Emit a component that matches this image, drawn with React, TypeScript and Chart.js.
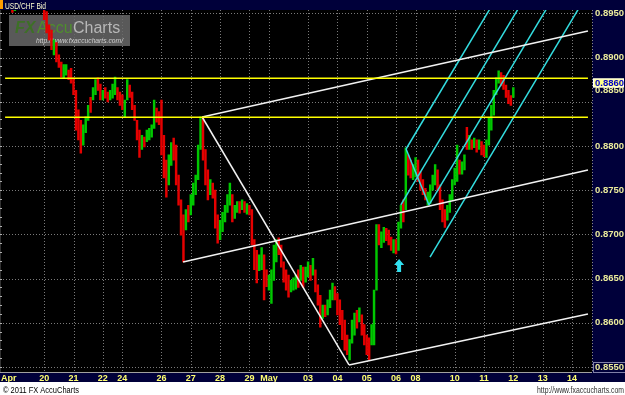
import React, { useEffect, useRef } from 'react';
import { Chart, registerables } from 'chart.js';
Chart.register(...registerables);

// ---- time axis (trading hours from 20 Apr 00:00) ----
const barStartHour = -26;
const barStepHours = 2;
const dayTickHours = [-29, 0, 24, 48, 64, 96, 120, 144, 168, 184, 216, 240, 264, 288, 304, 336, 360, 384, 408, 432];
const dayTickLabels = ['Apr', '20', '21', '22', '24', '26', '27', '28', '29', 'May', '03', '04', '05', '06', '08', '10', '11', '12', '13', '14'];
const priceTicks = [0.855, 0.86, 0.865, 0.87, 0.875, 0.88, 0.885, 0.89, 0.895];

// ---- 2-hour bars: low / high / direction ----
const lows = [
  0.8951, 0.8953, 0.8957, 0.8960, 0.8962, 0.8958, 0.8960, 0.8963, 0.8961, 0.8959,
  0.8960, 0.8958, 0.8955, 0.8943, 0.8928, 0.8920, 0.8909, 0.8903, 0.8895, 0.8889,
  0.8878, 0.8877, 0.8880, 0.8875, 0.8871, 0.8858, 0.8818, 0.8807, 0.8792, 0.8801,
  0.8815, 0.8829, 0.8838, 0.8852, 0.8858, 0.8863, 0.8852, 0.8852, 0.8854, 0.8850,
  0.8852, 0.8854, 0.8858, 0.8852, 0.8846, 0.8841, 0.8832, 0.8852, 0.8855, 0.8841,
  0.8829, 0.8807, 0.8787, 0.8796, 0.8799, 0.8805, 0.8807, 0.8810, 0.8820, 0.8827,
  0.8824, 0.8790, 0.8764, 0.8742, 0.8756, 0.8778, 0.8784, 0.8756, 0.8733, 0.8699,
  0.8669, 0.8705, 0.8714, 0.8722, 0.8733, 0.8745, 0.8762, 0.8796, 0.8784, 0.8756,
  0.8739, 0.8745, 0.8741, 0.8707, 0.8690, 0.8694, 0.8703, 0.8714, 0.8725, 0.8733,
  0.8714, 0.8718, 0.8725, 0.8724, 0.8728, 0.8725, 0.8723, 0.8722, 0.8688, 0.8660,
  0.8645, 0.8659, 0.8660, 0.8626, 0.8641, 0.8637, 0.8622, 0.8648, 0.8669, 0.8677,
  0.8663, 0.8646, 0.8637, 0.8629, 0.8635, 0.8637, 0.8638, 0.8640, 0.8648, 0.8640,
  0.8646, 0.8652, 0.8648, 0.8654, 0.8635, 0.8620, 0.8595, 0.8605, 0.8607, 0.8609,
  0.8617, 0.8626, 0.8626, 0.8609, 0.8598, 0.8581, 0.8569, 0.8564, 0.8558, 0.8577,
  0.8586, 0.8594, 0.8601, 0.8586, 0.8575, 0.8564, 0.8558, 0.8575, 0.8575, 0.8637,
  0.8688, 0.8685, 0.8691, 0.8693, 0.8688, 0.8682, 0.8679, 0.8678, 0.8682, 0.8707,
  0.8714, 0.8728, 0.8767, 0.8764, 0.8762, 0.8765, 0.8760, 0.8750, 0.8745, 0.8739,
  0.8733, 0.8735, 0.8750, 0.8756, 0.8750, 0.8728, 0.8714, 0.8708, 0.8716, 0.8725,
  0.8739, 0.8756, 0.8760, 0.8768, 0.8768, 0.8773, 0.8796, 0.8796, 0.8796, 0.8798,
  0.8793, 0.8796, 0.8790, 0.8788, 0.8787, 0.8801, 0.8818, 0.8835, 0.8858, 0.8871,
  0.8868, 0.8864, 0.8855, 0.8848, 0.8846, 0.8855,
];
const highs = [
  0.8960, 0.8962, 0.8968, 0.8972, 0.8975, 0.8970, 0.8971, 0.8976, 0.8973, 0.8970,
  0.8969, 0.8968, 0.8966, 0.8962, 0.8952, 0.8937, 0.8931, 0.8920, 0.8917, 0.8903,
  0.8895, 0.8892, 0.8892, 0.8886, 0.8888, 0.8877, 0.8863, 0.8841, 0.8829, 0.8824,
  0.8833, 0.8846, 0.8855, 0.8866, 0.8875, 0.8877, 0.8870, 0.8863, 0.8866, 0.8861,
  0.8863, 0.8870, 0.8878, 0.8866, 0.8861, 0.8858, 0.8852, 0.8875, 0.8869, 0.8861,
  0.8846, 0.8829, 0.8818, 0.8812, 0.8810, 0.8818, 0.8820, 0.8824, 0.8852, 0.8843,
  0.8839, 0.8852, 0.8812, 0.8784, 0.8790, 0.8804, 0.8809, 0.8801, 0.8767, 0.8739,
  0.8722, 0.8728, 0.8733, 0.8745, 0.8758, 0.8767, 0.8801, 0.8833, 0.8832, 0.8796,
  0.8773, 0.8762, 0.8758, 0.8750, 0.8722, 0.8716, 0.8725, 0.8733, 0.8745, 0.8758,
  0.8745, 0.8733, 0.8737, 0.8737, 0.8739, 0.8737, 0.8735, 0.8733, 0.8728, 0.8694,
  0.8682, 0.8677, 0.8685, 0.8677, 0.8660, 0.8654, 0.8660, 0.8688, 0.8694, 0.8696,
  0.8688, 0.8669, 0.8660, 0.8654, 0.8648, 0.8651, 0.8654, 0.8660, 0.8665, 0.8663,
  0.8663, 0.8669, 0.8665, 0.8673, 0.8660, 0.8643, 0.8631, 0.8620, 0.8620, 0.8626,
  0.8637, 0.8645, 0.8641, 0.8633, 0.8626, 0.8614, 0.8603, 0.8586, 0.8581, 0.8603,
  0.8611, 0.8614, 0.8617, 0.8609, 0.8598, 0.8586, 0.8583, 0.8598, 0.8637, 0.8711,
  0.8711, 0.8703, 0.8708, 0.8707, 0.8705, 0.8697, 0.8694, 0.8694, 0.8714, 0.8733,
  0.8739, 0.8798, 0.8790, 0.8784, 0.8779, 0.8787, 0.8784, 0.8771, 0.8762, 0.8752,
  0.8748, 0.8756, 0.8767, 0.8779, 0.8773, 0.8756, 0.8739, 0.8728, 0.8733, 0.8745,
  0.8762, 0.8775, 0.8801, 0.8784, 0.8782, 0.8790, 0.8821, 0.8812, 0.8807, 0.8809,
  0.8807, 0.8807, 0.8805, 0.8801, 0.8807, 0.8832, 0.8846, 0.8863, 0.8877, 0.8885,
  0.8883, 0.8880, 0.8869, 0.8863, 0.8857, 0.8866,
];
const barDirection =
  'RGGGRRGGRR' + 'GRRRRRRGRR' + 'RGGRRRRRRG' + 'GGRGGRRGRR' + 'GGGRRRGGRR' +
  'RRRGRGGGGR' + 'RRRRGGRRRR' + 'RGRGGGGGRR' + 'RGRRRGGGGG' + 'RGGRGRGRRR' +
  'RGGRRGGGGR' + 'RRRRGGGRGR' + 'GGRGRRRGRG' + 'GGRRRRRRGG' + 'GRGRRRRGGG' +
  'RGGRRRGRGG' + 'RGRRGGRRRR' + 'GGGGRRRRGG' + 'GGGRGGRGRG' + 'RGRRGGGGGG' +
  'RRRRRG';

// ---- drawn studies (hour, price) ----
const yellowLevels = [0.88766, 0.88325];
const studyStartHour = -32;
const studyEndHour = 445.1;
const whiteUpper = [[129.3, 0.88328], [445.1, 0.89301]];
const whiteDiagonal = [[129.3, 0.88328], [249.5, 0.85523]];
const whiteMiddle = [[113.7, 0.86688], [445.1, 0.87729]];
const whiteLower = [[249.5, 0.85523], [445.1, 0.86100]];
const cyanUpper = [[296.2, 0.87966], [369.2, 0.89652]];
const cyanMedian = [[291.9, 0.87333], [392.3, 0.89652]];
const cyanLowerTine = [[315.0, 0.87333], [415.5, 0.89652]];
const cyanBottom = [[315.8, 0.86744], [441.7, 0.89652]];
const cyanSwing = [[296.2, 0.87966], [315.0, 0.87333]];
const arrowPoint = [290.5, 0.86722];
const lastPrice = 0.886;

const NAVY = '#00003a';
const RED = '#e60000';
const GREEN = '#00c800';
const GRID = '#7a7a7a';
const DATE_COLOR = '#ffff70';
const PRICE_COLOR = '#ecec9c';

const toPts = (seg: number[][]) => seg.map(([x, y]) => ({ x, y }));
const lineDs = (seg: number[][], color: string) => ({
  type: 'line' as const,
  data: toPts(seg),
  borderColor: color,
  borderWidth: 1.5,
  pointRadius: 0,
  fill: false,
  order: 0,
});

const framePlugin = {
  id: 'frame',
  beforeDraw(chart: any) {
    const { ctx, chartArea: a } = chart;
    ctx.save();
    ctx.fillStyle = '#ffffff';
    ctx.fillRect(0, 0, 625, 395);
    ctx.fillStyle = NAVY;
    ctx.fillRect(0, 0, 625, a.top);
    ctx.fillRect(a.right, 0, 625 - a.right, a.bottom + 10);
    ctx.fillRect(0, a.bottom, a.right, 10);
    ctx.fillStyle = '#000000';
    ctx.fillRect(a.left, a.top, a.right - a.left, a.bottom - a.top);
    ctx.restore();
  },
  beforeDatasetsDraw(chart: any) {
    const { ctx, chartArea: a, scales } = chart;
    ctx.save();
    // dotted grid at the scales' ticks
    ctx.fillStyle = GRID;
    scales.x.ticks.forEach((t: any) => {
      if (t.value === dayTickHours[0]) return;
      const px = Math.round(scales.x.getPixelForValue(t.value));
      for (let y = Math.ceil(a.top); y < a.bottom; y += 3) ctx.fillRect(px, y, 1, 1);
    });
    scales.y.ticks.forEach((t: any) => {
      const py = Math.round(scales.y.getPixelForValue(t.value));
      if (py <= a.top) return;
      for (let x = 3; x < a.right; x += 3) ctx.fillRect(x, py, 1, 1);
    });
    // watermark
    ctx.fillStyle = 'rgba(105,105,105,0.85)';
    ctx.fillRect(9, 15, 121, 31);
    ctx.textBaseline = 'alphabetic';
    ctx.font = "italic bold 16px 'Liberation Sans'";
    ctx.fillStyle = '#3d7026';
    ctx.fillText('FX', 15, 33);
    ctx.font = "16px 'Liberation Sans'";
    ctx.fillStyle = '#4f8f2d';
    ctx.fillText('Accu', 37, 33);
    ctx.fillStyle = '#b8b8b8';
    ctx.fillText('Charts', 73, 33);
    ctx.font = "italic 7.5px 'Liberation Sans'";
    ctx.fillStyle = '#d0d0d0';
    ctx.fillText('http://www.fxaccucharts.com/', 36, 43, 87);
    // left minor ticks
    ctx.fillStyle = '#b0b0b0';
    for (let p = 0.855; p <= 0.8955; p += 0.001) {
      const py = Math.round(scales.y.getPixelForValue(p));
      if (py > a.top && py < a.bottom) ctx.fillRect(0, py, 2, 1);
    }
    ctx.restore();
  },
  afterDraw(chart: any) {
    const { ctx, chartArea: a, scales } = chart;
    ctx.save();
    // title bar
    ctx.fillStyle = '#ff9c00';
    ctx.fillRect(0, 0, 3, 9);
    ctx.font = "9px 'Liberation Sans'";
    ctx.fillStyle = '#ffffd0';
    ctx.textBaseline = 'alphabetic';
    ctx.fillText('USD/CHF Bid', 5, 8.5, 41);
    // separators
    ctx.fillStyle = '#a0a0a0';
    ctx.fillRect(0, a.bottom, a.right, 1);
    ctx.fillStyle = '#8a8a8a';
    for (let y = a.top; y < a.bottom; y += 3) ctx.fillRect(a.right, y, 1, 1);
    // shifted 0.8850 label
    ctx.font = "bold 9.5px 'Liberation Sans'";
    ctx.textBaseline = 'middle';
    ctx.fillStyle = PRICE_COLOR;
    ctx.fillText('0.8850', a.right + 3, 90.5);
    // last price box
    const ly = scales.y.getPixelForValue(lastPrice) - 10;
    ctx.fillStyle = '#ffff88';
    ctx.fillRect(a.right + 1, ly - 4.5, 31, 9);
    ctx.strokeStyle = '#ffffff';
    ctx.lineWidth = 1;
    ctx.strokeRect(a.right + 1.5, ly - 4, 30, 8);
    ctx.fillStyle = '#0000cc';
    ctx.fillText(lastPrice.toFixed(4), a.right + 3, ly + 0.5);
    // bottom price box outline
    const by = scales.y.getPixelForValue(0.855);
    ctx.strokeStyle = '#8080a8';
    ctx.strokeRect(a.right + 1.5, by - 4.5, 32, 10);
    // arrow
    const ax = scales.x.getPixelForValue(arrowPoint[0]);
    const ay = scales.y.getPixelForValue(arrowPoint[1]);
    ctx.fillStyle = '#30e0f0';
    ctx.beginPath();
    ctx.moveTo(ax, ay);
    ctx.lineTo(ax + 5, ay + 6);
    ctx.lineTo(ax + 2, ay + 6);
    ctx.lineTo(ax + 2, ay + 13);
    ctx.lineTo(ax - 2, ay + 13);
    ctx.lineTo(ax - 2, ay + 6);
    ctx.lineTo(ax - 5, ay + 6);
    ctx.closePath();
    ctx.fill();
    // footer
    ctx.font = "9px 'Liberation Sans'";
    ctx.textBaseline = 'alphabetic';
    ctx.fillStyle = '#000000';
    ctx.textAlign = 'left';
    ctx.fillText('© 2011 FX AccuCharts', 3, 393, 76);
    ctx.textAlign = 'right';
    ctx.fillStyle = '#303030';
    ctx.fillText('http://www.fxaccucharts.com', 624, 393, 87);
    ctx.restore();
  },
};

export default function App() {
  const ref = useRef<HTMLCanvasElement>(null);
  useEffect(() => {
    document.body.style.margin = '0';
    const barData = lows.map((lo, i) => ({ x: barStartHour + i * barStepHours, y: [lo, highs[i]] }));
    const barColors = lows.map((_, i) => (barDirection[i] === 'G' ? GREEN : RED));
    const datasets: any[] = [
      ...yellowLevels.map((lvl) => lineDs([[studyStartHour, lvl], [studyEndHour, lvl]], '#ffff00')),
      lineDs(whiteUpper, '#f2f2f2'),
      lineDs(whiteDiagonal, '#f2f2f2'),
      lineDs(whiteMiddle, '#f2f2f2'),
      lineDs(whiteLower, '#f2f2f2'),
      lineDs(cyanUpper, '#33dde0'),
      lineDs(cyanMedian, '#33dde0'),
      lineDs(cyanLowerTine, '#33dde0'),
      lineDs(cyanBottom, '#33dde0'),
      lineDs(cyanSwing, '#33dde0'),
      {
        type: 'bar',
        data: barData,
        backgroundColor: barColors,
        borderWidth: 0,
        barThickness: 1.8,
        order: 1,
      },
    ];
    const chart = new Chart(ref.current!, {
      type: 'bar',
      data: { datasets },
      options: {
        animation: false,
        responsive: false,
        maintainAspectRatio: false,
        events: [],
        layout: { padding: { top: 10, bottom: 13, left: 0, right: 0 } },
        plugins: { legend: { display: false }, tooltip: { enabled: false }, title: { display: false } },
        scales: {
          x: {
            type: 'linear',
            min: -36,
            max: 448.4,
            offset: false,
            position: 'bottom',
            afterBuildTicks: (s: any) => {
              s.ticks = dayTickHours.map((v) => ({ value: v }));
            },
            afterFit: (s: any) => {
              s.height = 10;
            },
            ticks: {
              autoSkip: false,
              maxRotation: 0,
              minRotation: 0,
              padding: 1,
              color: DATE_COLOR,
              font: { family: 'Liberation Sans', size: 9, weight: 'bold' },
              callback: (v: any) => dayTickLabels[dayTickHours.indexOf(Number(v))] ?? '',
            },
            grid: { display: false, offset: false, drawTicks: false },
            border: { display: false },
          },
          y: {
            type: 'linear',
            position: 'right',
            min: 0.854434,
            max: 0.895385,
            afterBuildTicks: (s: any) => {
              s.ticks = priceTicks.map((v) => ({ value: v }));
            },
            afterFit: (s: any) => {
              s.width = 33;
            },
            ticks: {
              padding: 3,
              color: PRICE_COLOR,
              font: { family: 'Liberation Sans', size: 9.5, weight: 'bold' },
              callback: (v: any) => (Math.abs(Number(v) - 0.885) < 1e-6 ? '' : Number(v).toFixed(4)),
            },
            grid: { display: false, drawTicks: false },
            border: { display: false },
          },
        },
      } as any,
      plugins: [framePlugin],
    } as any);
    return () => chart.destroy();
  }, []);
  return (
    <div style={{ position: 'absolute', left: 0, top: 0, width: 625, height: 395 }}>
      <canvas ref={ref} width={625} height={395} style={{ display: 'block', width: 625, height: 395 }} />
    </div>
  );
}
